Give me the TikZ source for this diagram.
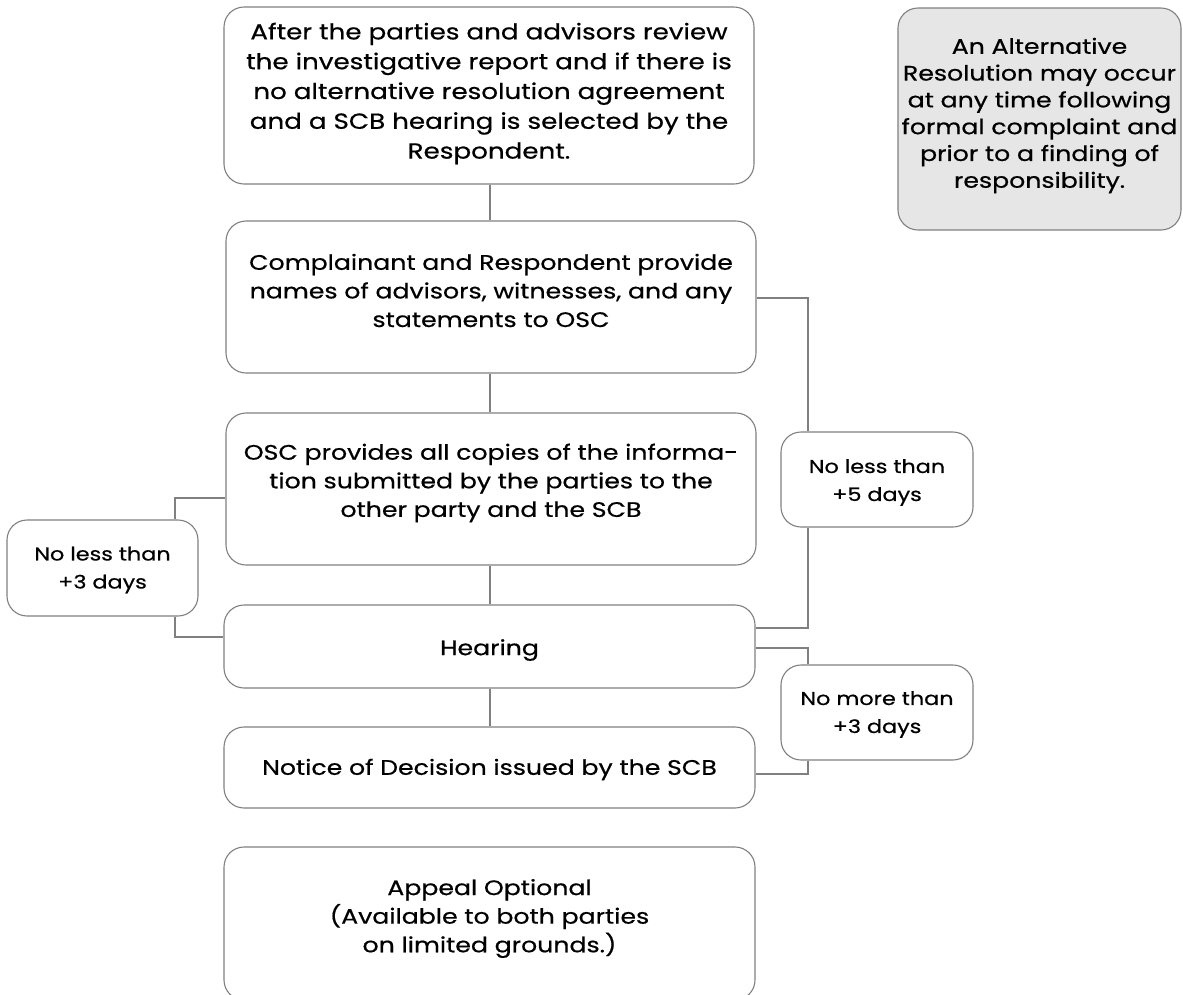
\documentclass[tikz,border=0pt]{standalone}
\usepackage{fontspec}
\setmainfont{Poppins}[FakeStretch=1.2,FakeBold=0.6]
\definecolor{linegray}{HTML}{808080}
\definecolor{altfill}{HTML}{E6E6E6}
\begin{document}
\begin{tikzpicture}[x=1pt,y=-1pt,
  box/.style={draw=linegray, line width=1.1pt, rounded corners=20pt, inner sep=0pt},
  txt/.style={align=center, inner sep=0pt, font=\fontsize{21}{28.6}\selectfont},
  small/.style={txt, font=\fontsize{18.6}{28}\selectfont},
  conn/.style={draw=linegray, line width=1.1pt}]
\useasboundingbox (0,0) rectangle (1183,994);
\clip (0,0) rectangle (1183,994);
% boxes
\node[box, minimum width=530pt, minimum height=177pt] (b1) at (489,95.5) {};
\node[box, minimum width=530pt, minimum height=152pt] (b2) at (491,297) {};
\node[box, minimum width=530pt, minimum height=152pt] (b3) at (491,489) {};
\node[box, minimum width=531pt, minimum height=83pt] (hear) at (489.5,646.5) {};
\node[box, minimum width=531pt, minimum height=81pt] (notice) at (489.5,767.5) {};
\node[box, minimum width=531pt, minimum height=153pt] (appeal) at (489.5,923.5) {};
\node[box, fill=altfill, minimum width=283pt, minimum height=222pt] (alt) at (1039.5,119) {};
\node[box, minimum width=191pt, minimum height=96pt] (lb) at (102.5,568) {};
\node[box, minimum width=192pt, minimum height=95pt] (r5) at (877,479.5) {};
\node[box, minimum width=192pt, minimum height=95pt] (rm) at (877,712.5) {};
% texts
\node[txt, font=\fontsize{21.8}{29.8}\selectfont] (b1t) at (489,93.5)
  {After the parties and advisors review\\the investigative report and if there is\\no alternative resolution agreement\\and a SCB hearing is selected by the\\Respondent.};
\node[txt] (b2t) at (491,290.5)
  {Complainant and Respondent provide\\names of advisors, witnesses, and any\\statements to OSC};
\node[txt] (b3t) at (491,483)
  {OSC provides all copies of the informa-\\tion submitted by the parties to the\\other party and the SCB};
\node[txt] (heart) at (489.5,650) {Hearing};
\node[txt] (noticet) at (489.5,769.5) {Notice of Decision issued by the SCB};
\node[txt] (appealt) at (489.5,918.5)
  {Appeal Optional\\(Available to both parties\\on limited grounds.)};
\node[txt, font=\fontsize{21}{26.8}\selectfont] (altt) at (1039.5,115.5)
  {An Alternative\\Resolution may occur\\at any time following\\formal complaint and\\prior to a finding of\\responsibility.};
\node[small] (lbt) at (102.5,570) {No less than\\+3 days};
\node[small] (r5t) at (877,482.5) {No less than\\+5 days};
\node[small] (rmt) at (877,714.5) {No more than\\+3 days};
% bend coordinates
\coordinate (l1) at (175,498);
\coordinate (l2) at (175,637);
\coordinate (rA) at (808,298);
\coordinate (rB) at (808,628);
\coordinate (mA) at (808,648);
\coordinate (mB) at (808,774);
\coordinate (vx) at (490,0);
% vertical spine
\draw[conn] (vx |- b1.south) -- (vx |- b2.north);
\draw[conn] (vx |- b2.south) -- (vx |- b3.north);
\draw[conn] (vx |- b3.south) -- (vx |- hear.north);
\draw[conn] (vx |- hear.south) -- (vx |- notice.north);
% left branch
\draw[conn] (b3.west |- l1) -- (l1) -- (l1 |- lb.north);
\draw[conn] (l1 |- lb.south) -- (l2) -- (hear.west |- l2);
% right +5 branch
\draw[conn] (b2.east |- rA) -- (rA) -- (rA |- r5.north);
\draw[conn] (rA |- r5.south) -- (rB) -- (hear.east |- rB);
% right no more branch
\draw[conn] (hear.east |- mA) -- (mA) -- (mA |- rm.north);
\draw[conn] (mA |- rm.south) -- (mB) -- (notice.east |- mB);
\end{tikzpicture}
\end{document}
